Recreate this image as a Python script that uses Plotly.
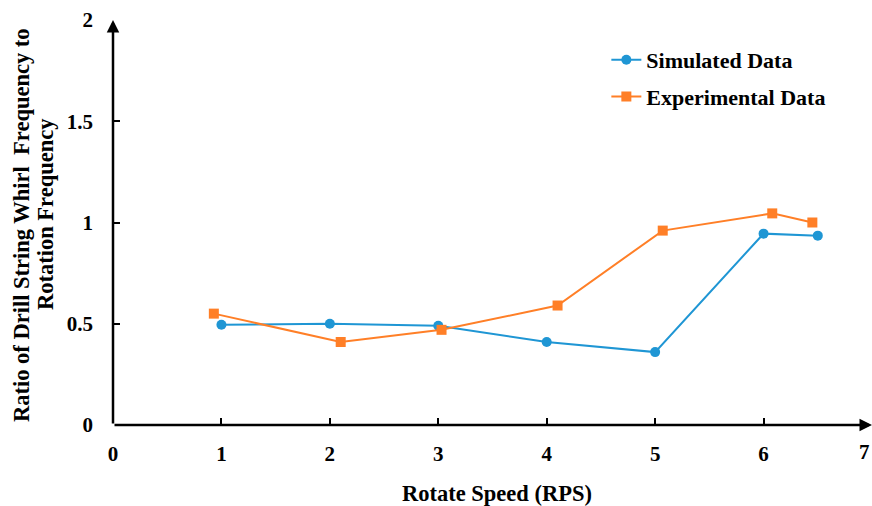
import plotly.graph_objects as go

sim_x = [1, 2, 3, 4, 5, 6, 6.5]
sim_y = [0.495, 0.5, 0.49, 0.41, 0.36, 0.945, 0.935]
exp_x = [0.93, 2.1, 3.03, 4.1, 5.07, 6.08, 6.45]
exp_y = [0.55, 0.41, 0.47, 0.59, 0.96, 1.045, 1.0]
x_ticks = [0, 1, 2, 3, 4, 5, 6, 7]
y_ticks = [0, 0.5, 1, 1.5, 2]
y_tick_text = ["0", "0.5", "1", "1.5", "2"]

BLUE = "#1F96D4"
ORANGE = "#FF7F27"
FONT = "'Liberation Serif', 'Times New Roman', 'DejaVu Serif', serif"

fig = go.Figure()
fig.add_trace(go.Scatter(x=sim_x, y=sim_y, name="<b>Simulated Data</b>", mode="lines+markers",
                         line=dict(color=BLUE, width=2), marker=dict(symbol="circle", size=10, color=BLUE),
                         legendgroup="a", cliponaxis=False))
fig.add_trace(go.Scatter(x=exp_x, y=exp_y, name="<b>Experimental Data</b>", mode="lines+markers",
                         line=dict(color=ORANGE, width=2), marker=dict(symbol="square", size=10, color=ORANGE),
                         legendgroup="b", cliponaxis=False))

fig.update_layout(
    width=872, height=506,
    margin=dict(l=113, r=0, t=20, b=81),
    plot_bgcolor="white", paper_bgcolor="white",
    font=dict(family=FONT, size=21, color="black"),
    showlegend=True,
    legend=dict(x=0.65, y=0.953, xanchor="left", yanchor="top", bgcolor="rgba(0,0,0,0)",
                font=dict(family=FONT, size=22, color="black"), tracegroupgap=5,
                traceorder="grouped"),
    xaxis=dict(range=[0, 7], tickvals=x_ticks[:-1], ticktext=[f"<b>{v}</b>" for v in x_ticks[:-1]],
               ticks="inside", ticklen=7, tickwidth=2, tickcolor="black",
               showline=False, showgrid=False, zeroline=False, ticklabelstandoff=14),
    yaxis=dict(range=[0, 2], tickvals=y_ticks, ticktext=[f"<b>{t}</b>" for t in y_tick_text],
               ticks="inside", ticklen=7, tickwidth=2, tickcolor="black",
               showline=False, showgrid=False, zeroline=False, ticklabelstandoff=19),
)

# last x tick label (at the right edge, as in the original)
fig.add_annotation(x=x_ticks[-1], y=0, xref="x", yref="y", yshift=-27, text=f"<b>{x_ticks[-1]}</b>",
                   showarrow=False, xanchor="right", yanchor="middle", font=dict(family=FONT, size=21))

# axis lines with arrowheads
fig.add_annotation(x=7, y=0, ax=0, ay=0, xref="x", yref="y", axref="x", ayref="y",
                   text="", showarrow=True, arrowhead=2, arrowsize=1, arrowwidth=2.5, arrowcolor="black")
fig.add_annotation(x=0, y=2, ax=0, ay=0, xref="x", yref="y", axref="x", ayref="y",
                   text="", showarrow=True, arrowhead=2, arrowsize=1, arrowwidth=2.5, arrowcolor="black")

# axis titles
fig.add_annotation(x=(497 - 113) / 759, y=-(494 - 425) / 405, xref="paper", yref="paper",
                   text="<b>Rotate Speed (RPS)</b>", showarrow=False, xanchor="center", yanchor="middle",
                   font=dict(family=FONT, size=22.5))
fig.add_annotation(x=-(113 - 21) / 759, y=(425 - 225) / 405, xref="paper", yref="paper",
                   text="<b>Ratio of Drill String Whirl  Frequency to</b>", showarrow=False, textangle=-90,
                   xanchor="center", yanchor="middle", font=dict(family=FONT, size=22.5))
fig.add_annotation(x=-(113 - 46) / 759, y=(425 - 214) / 405, xref="paper", yref="paper",
                   text="<b>Rotation Frequency</b>", showarrow=False, textangle=-90,
                   xanchor="center", yanchor="middle", font=dict(family=FONT, size=22.5))

fig.write_html("out.html")
